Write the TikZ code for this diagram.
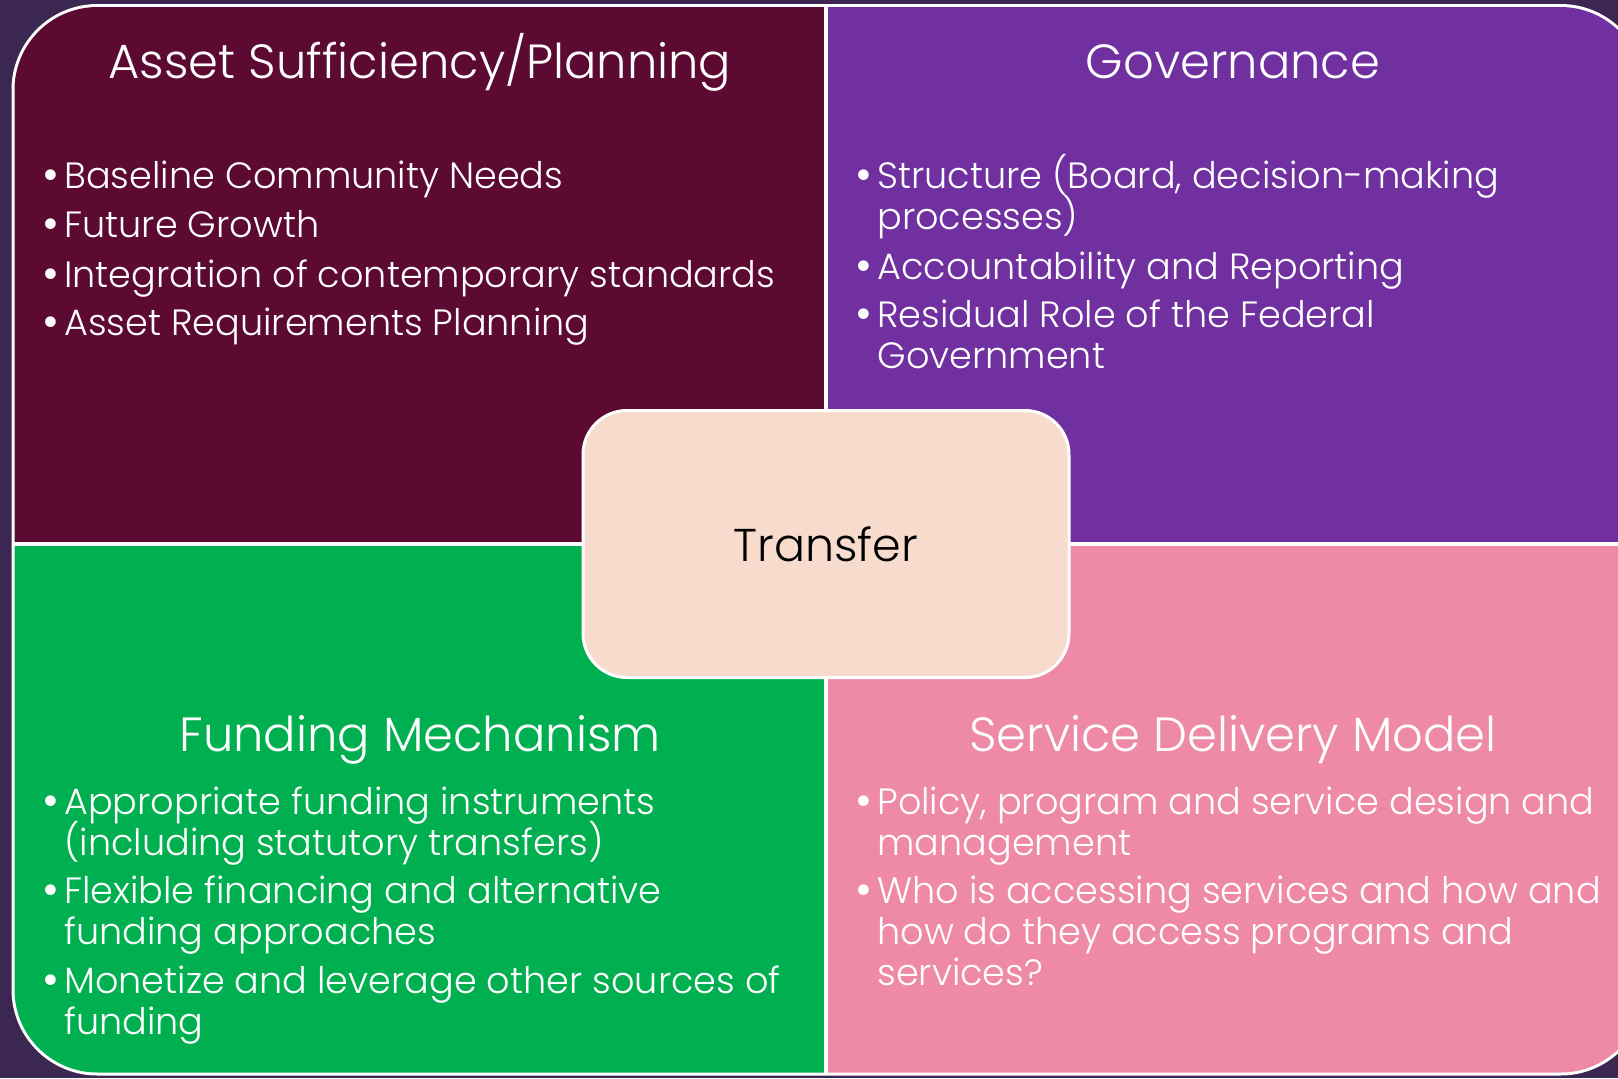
\documentclass[tikz,border=0pt]{standalone}
\usepackage{fontspec}
\IfFontExistsTF{Poppins Light}{\setmainfont{Poppins Light}}{\setmainfont{Poppins}}
\definecolor{bgdark}{HTML}{3B2752}
\definecolor{wine}{HTML}{5C0A32}
\definecolor{vio}{HTML}{7030A0}
\definecolor{pgreen}{HTML}{00B050}
\definecolor{rose}{HTML}{EE8AA7}
\definecolor{peach}{HTML}{F7DBCC}
\newcommand{\bul}{\leavevmode\llap{\raisebox{-1pt}{\fontsize{23}{23}\selectfont\textbullet}\hspace{2.5pt}}}
\newcommand{\rows}[1]{\vtop{\hsize=400pt\parindent=0pt\lineskiplimit=-\maxdimen\baselineskip=20.5pt\let\\\par #1\par}}

\begin{document}
\begin{tikzpicture}[x=0.5pt,y=-0.5pt,
	head/.style={text=white,font=\fontsize{24}{28}\selectfont,anchor=base,inner sep=0pt},
	item/.style={text=white,font=\fontsize{18.3}{20.5}\selectfont,anchor=base west,inner sep=0pt}]
	\useasboundingbox (0,0) rectangle (1618,1078);
	\fill[bgdark] (0,0) rectangle (1618,1078);
	% white frame round the four parts
	\fill[white,rounded corners=43pt] (11.5,4) rectangle (1646.5,1075.5);
	\begin{scope}
		\clip[rounded corners=41.5pt] (14.5,7) rectangle (1643.5,1072.5);
		\foreach \c/\xa/\ya/\xb/\yb in {wine/0/0/823.5/541.5, vio/828/0/1700/541.5, pgreen/0/546/823.5/1100, rose/828/546/1700/1100}
		\fill[\c] (\xa,\ya) rectangle (\xb,\yb);
	\end{scope}
	%titles
	\node[head] (asset) at (420,78) {Asset Sufficiency/Planning};
	\node[head] (gov) at (1233,78) {Governance};
	\node[head] (fund) at (420,751) {Funding Mechanism};
	\node[head] (sdm) at (1233,751) {Service Delivery Model};
	%top left
	\node[item] (base) at (64,188) {\bul Baseline Community Needs};
	\node[item] (growth) at (64,237) {\bul Future Growth};
	\node[item] (integ) at (64,287) {\bul Integration of contemporary standards};
	\node[item] (areq) at (64,335) {\bul Asset Requirements Planning};
	%top right
	\node[item] (struct) at (877,188) {\rows{\bul Structure (Board, decision-making\\processes)}};
	\node[item] (acc) at (877,279) {\bul Accountability and Reporting};
	\node[item] (resid) at (877,327) {\rows{\bul Residual Role of the Federal\\Government}};
	%bottom left
	\node[item] (instr) at (64,814) {\rows{\bul Appropriate funding instruments\\(including statutory transfers)}};
	\node[item] (flex) at (64,903) {\rows{\bul Flexible financing and alternative\\funding approaches}};
	\node[item] (monet) at (64,993) {\rows{\bul Monetize and leverage other sources of\\funding}};
	%bottom right
	\node[item] (policy) at (877,814) {\rows{\bul Policy, program and service design and\\management}};
	\node[item] (who) at (877,903) {\rows{\bul Who is accessing services and how and\\how do they access programs and\\services?}};
	%centre
	\node[draw=white,line width=1.5pt,fill=peach,rounded corners=22pt,minimum width=243pt,minimum height=133.5pt,font=\fontsize{23}{28}\selectfont] (transfer) at (826,544) {Transfer};
\end{tikzpicture}
\end{document}
